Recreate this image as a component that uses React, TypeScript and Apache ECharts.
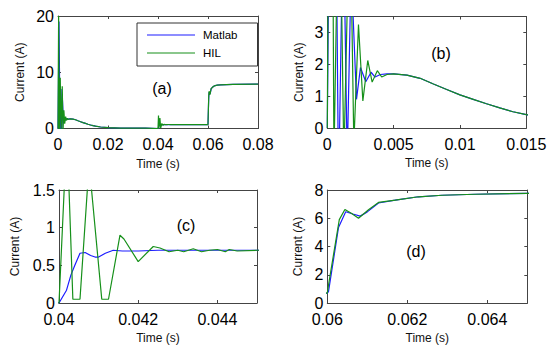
import React, { useEffect, useRef } from "react";
import * as echarts from "echarts";

// ---- data (time in s, current in A) ----
const matlabT = [
  0, 0.0004, 0.00085, 0.0012, 0.0015, 0.0018, 0.0022, 0.0025, 0.0029, 0.0033, 0.0036, 0.004, 0.0045,
  0.005, 0.006, 0.007, 0.008, 0.009, 0.01, 0.011, 0.012, 0.013, 0.014, 0.015, 0.017, 0.02, 0.025, 0.03, 0.035,
  0.04, 0.04019, 0.0403, 0.0404, 0.04053, 0.04066, 0.0408, 0.04091, 0.041, 0.04117, 0.04137, 0.0416, 0.042, 0.0425, 0.045, 0.05,
  0.06, 0.06003, 0.06028, 0.06046, 0.06064, 0.06082, 0.061, 0.06128, 0.0617, 0.06228, 0.06287, 0.0637, 0.065, 0.07, 0.08,
];
const matlabI = [
  0, 19, -2, 7, -1, 5, 0.9, 1.9, 1.45, 1.75, 1.6, 1.68, 1.7,
  1.7, 1.66, 1.56, 1.38, 1.21, 1.04, 0.9, 0.76, 0.63, 0.51, 0.42, 0.27, 0.14, 0.08, 0.06, 0.05,
  0.0, 0.17, 0.37, 0.5, 0.66, 0.67, 0.63, 0.61, 0.61, 0.66, 0.7, 0.69, 0.69, 0.7, 0.7, 0.7,
  0.7, 0.8, 5.35, 6.46, 6.3, 6.15, 6.45, 7.08, 7.28, 7.52, 7.63, 7.7, 7.76, 7.84, 7.9,
];
const hilT = [
  0, 0.00025, 0.0005, 0.0009, 0.00125, 0.0017, 0.002, 0.00235, 0.00268, 0.00305, 0.00338, 0.00377, 0.0041, 0.0045,
  0.005, 0.006, 0.007, 0.008, 0.009, 0.01, 0.011, 0.012, 0.013, 0.014, 0.015, 0.017, 0.02, 0.025, 0.03, 0.035,
  0.04, 0.0402, 0.04035, 0.04053, 0.04076, 0.04108, 0.04125, 0.04154, 0.04164, 0.042, 0.04238, 0.04255, 0.04278,
  0.043, 0.04315, 0.04339, 0.0436, 0.0438, 0.044, 0.0442, 0.0443, 0.0445, 0.045, 0.05,
  0.06, 0.06003, 0.0603, 0.06044, 0.0606, 0.06078, 0.06103, 0.06128, 0.0617, 0.06228, 0.06287, 0.0637, 0.065, 0.07, 0.08,
];
const hilI = [
  0, 20, -1, 9, -1, 7.5, -0.5, 3.25, 0.85, 2.12, 1.44, 1.8, 1.6, 1.68,
  1.7, 1.66, 1.56, 1.38, 1.21, 1.04, 0.9, 0.76, 0.63, 0.51, 0.42, 0.27, 0.14, 0.08, 0.06, 0.05,
  0.0, 2.3, 0.05, 0.05, 1.85, 0.05, 0.05, 0.9, 0.85, 0.55, 0.75, 0.73, 0.68,
  0.7, 0.68, 0.72, 0.68, 0.7, 0.71, 0.68, 0.71, 0.69, 0.7, 0.7,
  0.7, 1.27, 5.9, 6.62, 6.35, 6.0, 6.6, 7.12, 7.28, 7.52, 7.63, 7.7, 7.76, 7.84, 7.9,
];

const seriesNames = ["Matlab", "HIL"];
const panelLabels = ["(a)", "(b)", "(c)", "(d)"];
const xRanges = [
  [0, 0.08, 0.02],
  [0, 0.015, 0.005],
  [0.04, 0.045, 0.002],
  [0.06, 0.065, 0.002],
];
const yRanges = [
  [0, 20, 10],
  [0, 3.5, 1],
  [0, 1.5, 0.5],
  [0, 8, 2],
];
const xName = "Time (s)";
const yName = "Current (A)";

// ---- layout ----
const layout = [
  { left: 58, top: 16, width: 200, height: 112.5, yGap: 32, lx: 162, ly: 88 },
  { left: 327.3, top: 16.5, width: 199, height: 111.5, yGap: 22, lx: 441, ly: 53 },
  { left: 59, top: 190, width: 198, height: 113, yGap: 38, lx: 186, ly: 225 },
  { left: 327.3, top: 190, width: 200, height: 113, yGap: 23, lx: 416, ly: 251 },
];

const FONT = "'Liberation Sans', Arial, Helvetica, sans-serif";
const BORDER = "#444";
const BLUE = "#1c1cff";
const GREEN = "#16901a";

function fmt(interval: number) {
  return (v: number) => {
    const k = v / interval;
    if (Math.abs(k - Math.round(k)) > 1e-6) return "";
    return String(parseFloat(v.toPrecision(10)));
  };
}

export default function App() {
  const ref = useRef<HTMLDivElement>(null);
  useEffect(() => {
    if (!ref.current) return;
    const chart = echarts.init(ref.current, undefined, { renderer: "svg" });
    const grids: any[] = [];
    const xAxes: any[] = [];
    const yAxes: any[] = [];
    const series: any[] = [];
    const graphics: any[] = [];
    const matlabData = matlabT.map((t, i) => [t, matlabI[i]]);
    const hilData = hilT.map((t, i) => [t, hilI[i]]);

    layout.forEach((L, i) => {
      grids.push({ left: L.left, top: L.top, width: L.width, height: L.height, containLabel: false });
      const [xmin, xmax, xint] = xRanges[i];
      const [ymin, ymax, yint] = yRanges[i];
      const common = {
        type: "value",
        gridIndex: i,
        splitLine: { show: false },
        axisLine: { show: true, onZero: false, lineStyle: { color: BORDER, width: 1 } },
        axisTick: { show: true, inside: true, length: 3, lineStyle: { color: BORDER } },
      };
      xAxes.push({
        ...common,
        position: "bottom",
        min: xmin,
        max: xmax,
        interval: xint,
        name: xName,
        nameLocation: "middle",
        nameGap: 29,
        nameTextStyle: { fontSize: 12, fontFamily: FONT, color: "#111" },
        axisLabel: {
          fontSize: 16,
          fontFamily: FONT,
          color: "#000",
          margin: 9,
          lineHeight: 14,
          formatter: fmt(xint),
        },
      });
      xAxes.push({
        ...common,
        position: "top",
        min: xmin,
        max: xmax,
        interval: xint,
        axisLabel: { show: false },
      });
      yAxes.push({
        ...common,
        position: "left",
        min: ymin,
        max: ymax,
        interval: yint,
        name: yName,
        nameLocation: "middle",
        nameRotate: 90,
        nameGap: L.yGap,
        nameTextStyle: { fontSize: 12, fontFamily: FONT, color: "#111" },
        axisLabel: {
          fontSize: 16,
          fontFamily: FONT,
          color: "#000",
          margin: 4,
          lineHeight: 14,
          padding: [0, 0, 3, 0],
          formatter: fmt(yint),
        },
      });
      yAxes.push({
        ...common,
        position: "right",
        min: ymin,
        max: ymax,
        interval: yint,
        axisLabel: { show: false },
      });
      series.push({
        type: "line",
        name: seriesNames[0],
        xAxisIndex: 2 * i,
        yAxisIndex: 2 * i,
        data: matlabData,
        showSymbol: false,
        symbol: "none",
        clip: true,
        itemStyle: { color: BLUE },
        lineStyle: { color: BLUE, width: 1.2 },
      });
      series.push({
        type: "line",
        name: seriesNames[1],
        xAxisIndex: 2 * i,
        yAxisIndex: 2 * i,
        data: hilData,
        showSymbol: false,
        symbol: "none",
        clip: true,
        itemStyle: { color: GREEN },
        lineStyle: { color: GREEN, width: 1.2 },
      });
      graphics.push({
        type: "text",
        x: L.lx,
        y: L.ly,
        style: {
          text: panelLabels[i],
          fontSize: 16,
          fontFamily: FONT,
          fill: "#000",
          align: "center",
          verticalAlign: "middle",
        },
        z: 10,
      });
    });

    chart.setOption({
      animation: false,
      backgroundColor: "#fff",
      grid: grids,
      xAxis: xAxes,
      yAxis: yAxes,
      series,
      graphic: graphics,
      legend: {
        data: seriesNames,
        orient: "vertical",
        left: 137,
        top: 23,
        padding: [5, 20, 6, 10],
        itemGap: 4,
        itemWidth: 48,
        itemHeight: 1.2,
        icon: "rect",
        borderColor: "#333",
        borderWidth: 1,
        backgroundColor: "#fff",
        textStyle: { fontSize: 11.5, fontFamily: FONT, color: "#000", lineHeight: 14, padding: [0, 0, 0, 3] },
      },
    });
    return () => chart.dispose();
  }, []);
  return (
    <div
      ref={ref}
      style={{ position: "fixed", left: 0, top: 0, width: 550, height: 355, background: "#fff" }}
    />
  );
}
